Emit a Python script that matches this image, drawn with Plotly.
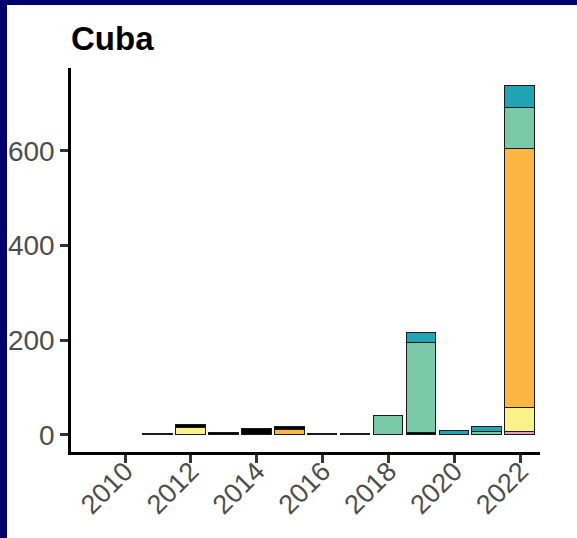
import plotly.graph_objects as go

# Yearly totals for Cuba, split into stacked categories (bottom to top)
years = [2011, 2012, 2013, 2014, 2015, 2016, 2017, 2018, 2019, 2020, 2021, 2022]

cat_pink   = [0, 0,  0, 0,  0,  0, 0, 0,   0,   0, 0,  7]
cat_yellow = [0, 15, 0, 0,  0,  0, 0, 0,   0,   0, 0,  49]
cat_orange = [0, 0,  0, 0,  10, 0, 0, 0,   0,   0, 0,  548]
cat_black  = [2, 7,  5, 13, 7,  3, 3, 0,   5,   0, 0,  0]
cat_green  = [0, 0,  0, 0,  0,  0, 0, 41,  189, 0, 7,  87]
cat_teal   = [0, 0,  0, 0,  0,  0, 0, 0,   21,  9, 10, 47]

series = [
    ("Category 1", cat_pink, "#E49BC4"),
    ("Category 2", cat_yellow, "#F9F38A"),
    ("Category 3", cat_orange, "#FDB641"),
    ("Category 4", cat_black, "#000000"),
    ("Category 5", cat_green, "#79C9A8"),
    ("Category 6", cat_teal, "#21A4B4"),
]

y_ticks = [0, 200, 400, 600]
x_ticks = [2010, 2012, 2014, 2016, 2018, 2020, 2022]

fig = go.Figure()
for name, vals, color in series:
    fig.add_trace(go.Bar(
        x=years, y=vals, name=name, width=0.9,
        marker=dict(color=color, line=dict(color="#1A1A1A", width=1.5)),
        showlegend=False,
    ))

W, H = 577, 538
L, R, T, B = 71, 37, 68, 86
pw, ph = W - L - R, H - T - B

fig.update_layout(
    width=W, height=H,
    barmode="stack",
    bargap=0,
    margin=dict(l=L, r=R, t=T, b=B, pad=0, autoexpand=False),
    paper_bgcolor="white",
    plot_bgcolor="white",
    font=dict(family="Liberation Sans, Arial, sans-serif", color="#4D4D4D", size=28),
    title=dict(
        text="<b>Cuba</b>", x=0, xref="paper", xanchor="left",
        y=1 - 38 / H, yref="container", yanchor="middle",
        font=dict(size=33, color="#000000"),
    ),
    xaxis=dict(
        range=[2008.36, 2022.6], tickvals=x_ticks, ticktext=[str(v) for v in x_ticks],
        tickangle=-45, showline=True, linecolor="#000000", linewidth=2.5,
        ticks="outside", ticklen=8, tickwidth=2.5, tickcolor="#333333",
        showgrid=False, zeroline=False, automargin=False,
        tickfont=dict(size=27), ticklabelstandoff=-18,
    ),
    yaxis=dict(
        range=[-36, 775], tickvals=y_ticks, ticktext=[str(v) for v in y_ticks],
        showline=True, linecolor="#000000", linewidth=2.5,
        ticks="outside", ticklen=8, tickwidth=2.5, tickcolor="#333333",
        showgrid=False, zeroline=False, automargin=False,
    ),
    shapes=[
        # navy frame along the left and top edges
        dict(type="rect", xref="paper", yref="paper",
             x0=-L / pw, x1=(7 - L) / pw, y0=-B / ph, y1=(H - B) / ph,
             fillcolor="#00006E", line=dict(width=0), layer="above"),
        dict(type="rect", xref="paper", yref="paper",
             x0=-L / pw, x1=(W - L) / pw, y0=(H - B - 5) / ph, y1=(H - B) / ph,
             fillcolor="#00006E", line=dict(width=0), layer="above"),
    ],
)

fig.write_html("out.html")
